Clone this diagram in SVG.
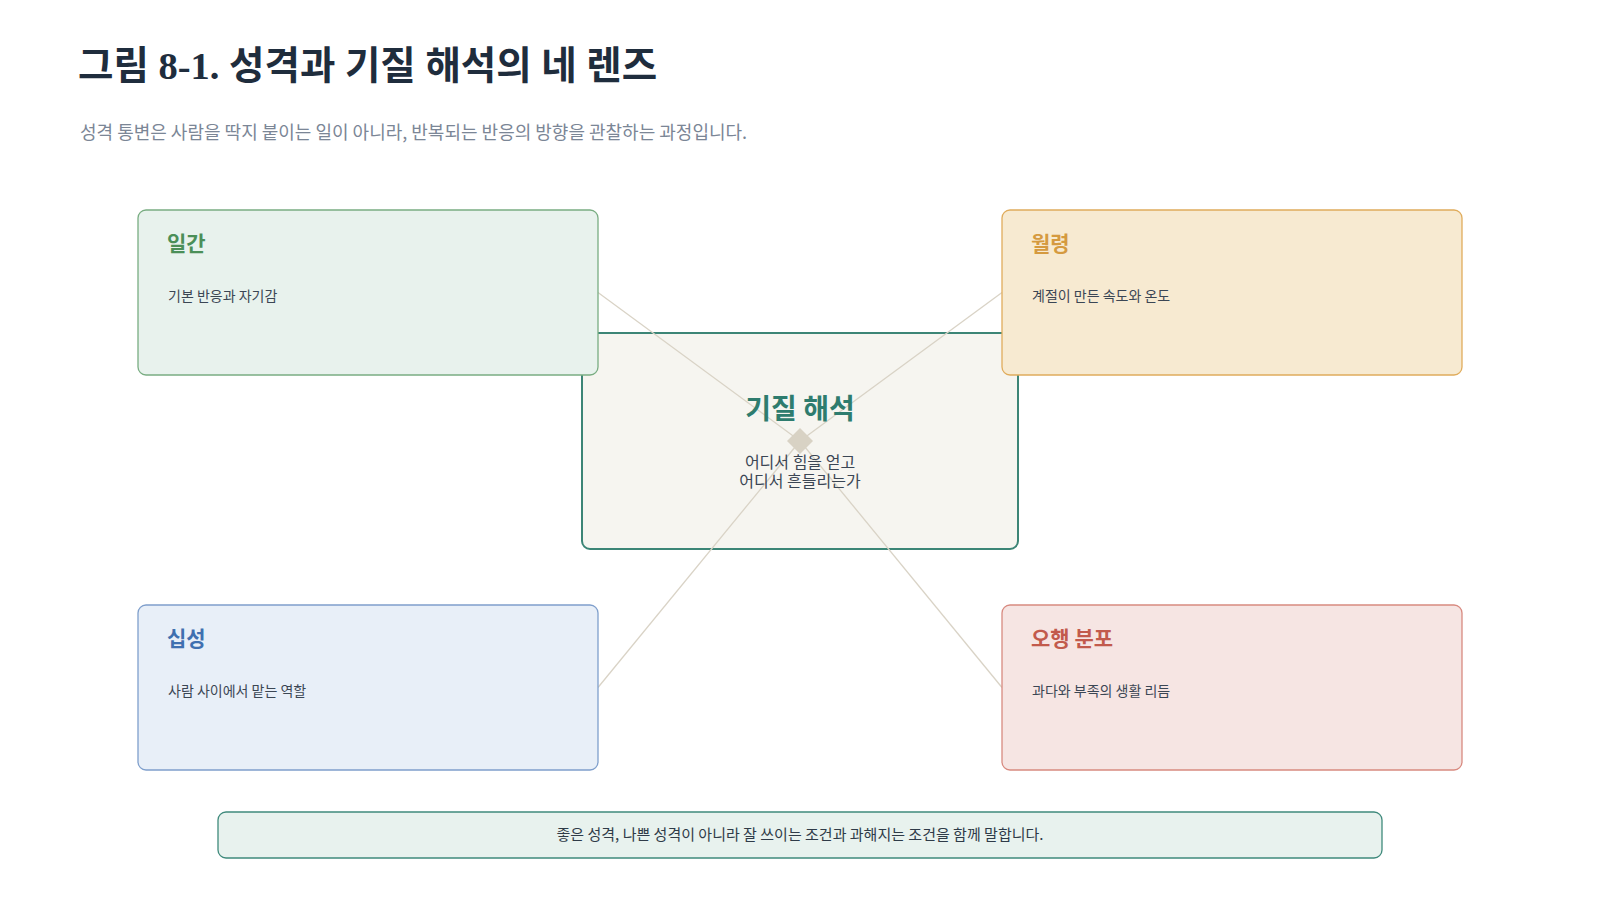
<svg xmlns="http://www.w3.org/2000/svg" width="1600" height="900" viewBox="0 0 1600 900">
<style>
.kr{font-family:"Noto Sans CJK KR","Noto Sans",sans-serif}
.title{font-family:"Liberation Serif","Noto Sans CJK KR",serif;font-size:38.5px;font-weight:700;fill:#1f2d3d}
.sub{font-size:18px;fill:#7b8696}
.lt{font-size:21px;font-weight:700}
.ld{font-size:14px;fill:#3b4654}
.conn{stroke:#d9d3c6;stroke-width:1.3;fill:none}
.lens{stroke-width:1.3}
</style>
<rect width="1600" height="900" fill="#ffffff"/>
<text class="title" x="78" y="79">그림 8-1. 성격과 기질 해석의 네 렌즈</text>
<text class="kr sub" x="80" y="139">성격 통변은 사람을 딱지 붙이는 일이 아니라, 반복되는 반응의 방향을 관찰하는 과정입니다.</text>

<g id="center">
<rect x="582" y="333" width="436" height="216" rx="8" fill="#f6f5f0" stroke="#3c8576" stroke-width="2"/>
</g>

<g id="connectors">
<line class="conn" x1="598" y1="292.5" x2="800" y2="441"/>
<line class="conn" x1="1002" y1="292.5" x2="800" y2="441"/>
<line class="conn" x1="598" y1="687.5" x2="800" y2="441"/>
<line class="conn" x1="1002" y1="687.5" x2="800" y2="441"/>
<path d="M800 428 L813 441 L800 454 L787 441 Z" fill="#d8d2c4"/>
</g>

<g id="center-text">
<text class="kr" x="800" y="419" text-anchor="middle" font-size="28" font-weight="700" fill="#2e7c6e">기질 해석</text>
<text class="kr" x="800" y="468" text-anchor="middle" font-size="16" fill="#3b4654">어디서 힘을 얻고</text>
<text class="kr" x="800" y="487" text-anchor="middle" font-size="16" fill="#3b4654">어디서 흔들리는가</text>
</g>

<g id="ilgan">
<rect class="lens" x="138" y="210" width="460" height="165" rx="8" fill="#e8f2ed" stroke="#79ad82"/>
<text class="kr lt" x="167" y="251" fill="#4b8f58">일간</text>
<text class="kr ld" x="168" y="301">기본 반응과 자기감</text>
</g>

<g id="wolryeong">
<rect class="lens" x="1002" y="210" width="460" height="165" rx="8" fill="#f7ead1" stroke="#e0ac5c"/>
<text class="kr lt" x="1031" y="251" fill="#d59a3f">월령</text>
<text class="kr ld" x="1032" y="301">계절이 만든 속도와 온도</text>
</g>

<g id="sipseong">
<rect class="lens" x="138" y="605" width="460" height="165" rx="8" fill="#e8eff8" stroke="#7f9fcc"/>
<text class="kr lt" x="167" y="646" fill="#3f70b0">십성</text>
<text class="kr ld" x="168" y="696">사람 사이에서 맡는 역할</text>
</g>

<g id="ohaeng">
<rect class="lens" x="1002" y="605" width="460" height="165" rx="8" fill="#f6e5e3" stroke="#d88a80"/>
<text class="kr lt" x="1031" y="646" fill="#c25a4c">오행 분포</text>
<text class="kr ld" x="1032" y="696">과다와 부족의 생활 리듬</text>
</g>

<g id="note">
<rect x="218" y="812" width="1164" height="46" rx="8" fill="#e8f2ee" stroke="#3f8a7c" stroke-width="1.3"/>
<text class="kr" x="800" y="840" text-anchor="middle" font-size="15" fill="#2f3b48">좋은 성격, 나쁜 성격이 아니라 잘 쓰이는 조건과 과해지는 조건을 함께 말합니다.</text>
</g>
</svg>
